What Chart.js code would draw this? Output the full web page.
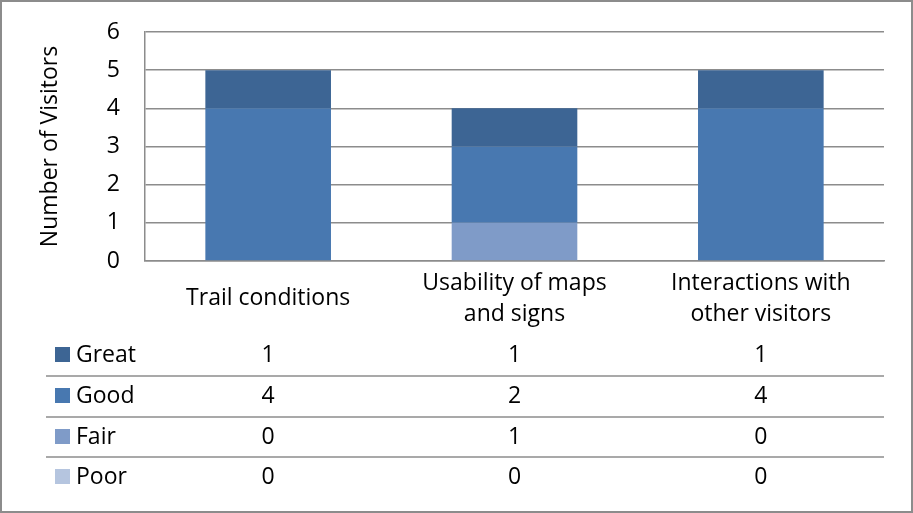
<!DOCTYPE html>
<html>
<head>
<meta charset="utf-8">
<script src="https://cdn.jsdelivr.net/npm/chart.js@4/dist/chart.umd.min.js"></script>
<style>
  html, body { margin: 0; padding: 0; background: #fff; }
  #wrap { width: 913px; height: 513px; position: relative; }
</style>
</head>
<body>
<div id="wrap"><canvas id="chart" width="913" height="513"></canvas></div>
<script>
// categories and series
const categories = [
    ['Trail conditions'],
    ['Usability of maps', 'and signs'],
    ['Interactions with', 'other visitors']
];
const great = [1, 1, 1];
const good = [4, 2, 4];
const fair = [0, 1, 0];
const poor = [0, 0, 0];
const seriesNames = ['Great', 'Good', 'Fair', 'Poor'];
const seriesColors = ['#3d6594', '#4878b0', '#7f9bc8', '#b5c5df'];
const yTicks = [0, 1, 2, 3, 4, 5, 6];

const FONT = '"Open Sans", sans-serif';
const FSIZE = 23;
const GRID = '#8c8c8c';

// table under the chart (rows top to bottom), row centres and separators
const rowY = [355, 396, 437, 477];
const lineY = [376, 417, 457];

const tablePlugin = {
    id: 'dataTable',
    beforeDraw(chart) {
        const ctx = chart.ctx;
        ctx.save();
        ctx.fillStyle = '#fff';
        ctx.fillRect(0, 0, chart.width, chart.height);
        ctx.restore();
    },
    afterDraw(chart) {
        const ctx = chart.ctx;
        const x = chart.scales.x;
        const rows = [great, good, fair, poor];
        ctx.save();
        // outer frame
        ctx.strokeStyle = '#8c8c8c';
        ctx.lineWidth = 2;
        ctx.strokeRect(1, 1, chart.width - 2, chart.height - 2);

        ctx.strokeStyle = GRID;
        ctx.lineWidth = 1.5;
        lineY.forEach(y => {
            ctx.beginPath();
            ctx.moveTo(46, y);
            ctx.lineTo(chart.chartArea.right, y);
            ctx.stroke();
        });

        ctx.font = FSIZE + 'px ' + FONT;
        ctx.textBaseline = 'middle';
        rows.forEach((vals, r) => {
            ctx.fillStyle = seriesColors[r];
            ctx.fillRect(55, rowY[r] - 8, 15, 15);
            ctx.fillStyle = '#000';
            ctx.textAlign = 'left';
            ctx.fillText(seriesNames[r], 76, rowY[r]);
            ctx.textAlign = 'center';
            vals.forEach((v, i) => {
                ctx.fillText(String(v), x.getPixelForValue(i), rowY[r]);
            });
        });
        ctx.restore();
    }
};

new Chart(document.getElementById('chart'), {
    type: 'bar',
    data: {
        labels: categories,
        datasets: [
            { label: 'Poor', data: poor, backgroundColor: seriesColors[3] },
            { label: 'Fair', data: fair, backgroundColor: seriesColors[2] },
            { label: 'Good', data: good, backgroundColor: seriesColors[1] },
            { label: 'Great', data: great, backgroundColor: seriesColors[0] }
        ]
    },
    options: {
        responsive: false,
        animation: false,
        devicePixelRatio: 1,
        layout: { padding: { top: 32, right: 29, left: 0, bottom: 0 } },
        plugins: {
            legend: { display: false },
            tooltip: { enabled: false }
        },
        datasets: {
            bar: { categoryPercentage: 1, barPercentage: 0.51, borderWidth: 0 }
        },
        scales: {
            x: {
                stacked: true,
                grid: { display: false, drawTicks: false },
                border: { display: true, color: GRID, width: 1.5 },
                ticks: {
                    color: '#000',
                    font: { family: FONT, size: FSIZE, lineHeight: 1.35 },
                    padding: 22,
                    crossAlign: 'center',
                    maxRotation: 0,
                    autoSkip: false
                },
                afterFit(scale) {
                    scale.height = 513 - 261;
                    scale.paddingLeft = 0;
                    scale.paddingRight = 0;
                }
            },
            y: {
                stacked: true,
                min: 0,
                max: 6,
                afterBuildTicks(scale) { scale.ticks = yTicks.map(v => ({ value: v })); },
                grid: { color: GRID, lineWidth: 1.5, drawTicks: false },
                border: { display: true, color: GRID, width: 1.5 },
                ticks: {
                    color: '#000',
                    font: { family: FONT, size: FSIZE },
                    padding: 25
                },
                title: {
                    display: true,
                    text: 'Number of Visitors',
                    color: '#000',
                    font: { family: FONT, size: FSIZE },
                    padding: { top: 37, bottom: 0 }
                },
                afterFit(scale) {
                    scale.width = 145;
                    scale.paddingTop = 0;
                    scale.paddingBottom = 0;
                }
            }
        }
    },
    plugins: [tablePlugin]
});
</script>
</body>
</html>
